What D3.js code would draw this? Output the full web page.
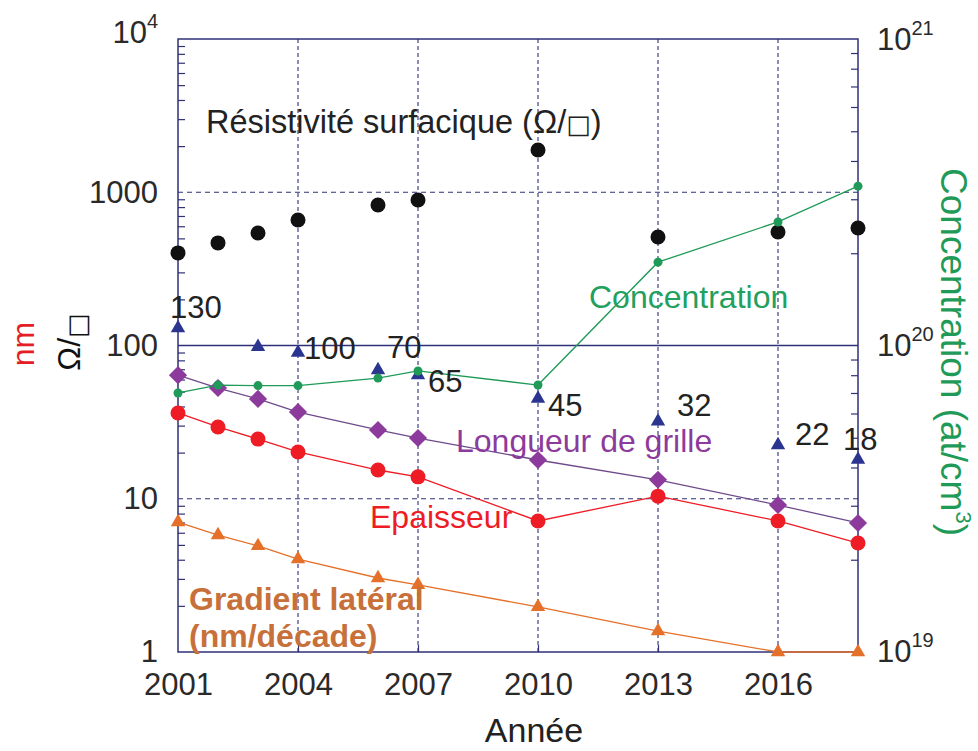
<!DOCTYPE html>
<html>
<head>
<meta charset="utf-8">
<script src="https://cdn.jsdelivr.net/npm/d3@7"></script>
<style>
  html, body { margin: 0; padding: 0; background: #ffffff; }
  svg { display: block; font-family: "Liberation Sans", Arial, Helvetica, sans-serif; }
</style>
</head>
<body>
<svg id="chart" width="978" height="751"></svg>
<script>
// ---------------- data ----------------
const years = [2001, 2002, 2003, 2004, 2006, 2007, 2010, 2013, 2016, 2018];
const resistivity   = [402, 467, 542, 659, 826, 890, 1888, 510, 550, 585];        // Ω/□ (left axis)
const gateLength    = [64, 52.8, 44.8, 36.8, 28.1, 24.9, 17.9, 13.3, 9.1, 6.95];  // nm
const thickness     = [36.3, 29.4, 24.5, 20.2, 15.4, 13.9, 7.16, 10.4, 7.16, 5.14]; // nm
const gradient      = [7.05, 5.8, 4.92, 4.04, 3.04, 2.74, 1.97, 1.37, 1.0, 1.0];   // nm/décade
const concentration = [7.0e19, 7.43e19, 7.4e19, 7.4e19, 7.83e19, 8.26e19, 7.43e19, 1.87e20, 2.53e20, 3.31e20]; // at/cm3 (right axis)

const nodeYears  = [2001, 2003, 2004, 2006, 2007, 2010, 2013, 2016, 2018];
const nodeValues = [130, 98, 90, 69, 64, 45, 32, 22.4, 18];
const nodeLabels = ["130", "", "100", "70", "65", "45", "32", "22", "18"];

const xTickValues = [2001, 2004, 2007, 2010, 2013, 2016];
const xGridValues = [2004, 2007, 2010, 2013, 2016];
const leftTickValues  = [1, 10, 100, 1000, 10000];
const leftTickLabels  = [["1"], ["10"], ["100"], ["1000"], ["10", "4"]];
const rightTickValues = [1e19, 1e20, 1e21];
const rightTickLabels = [["10", "19"], ["10", "20"], ["10", "21"]];

// ---------------- layout / style ----------------
const W = 978, H = 751;
const plot = { left: 178, right: 858, top: 39, bottom: 652 };
const C = {
  frame: "#2f3178", grid: "#2f3178", tick: "#2a2a2a",
  black: "#111111", purple: "#8c3a9c", purpleLine: "#6e4a8a",
  red: "#ee1c25", orange: "#e5702a", orangeText: "#c7703a",
  blue: "#2b3590", green: "#1f9a58", greenText: "#22a05e"
};
// label offsets for node labels (dx, dy relative to marker)
const nodeLabelOffsets = [[-8, -10], [0, 0], [6, 6], [9, -12], [10, 17], [10, 17], [19, -5], [17, 0], [-15, -10]];

const svg = d3.select("#chart");
svg.append("rect").attr("width", W).attr("height", H).attr("fill", "#fff");

const x  = d3.scaleLinear().domain([2001, 2018]).range([plot.left, plot.right]);
const yL = d3.scaleLog().domain([1, 1e4]).range([plot.bottom, plot.top]);
const yR = d3.scaleLog().domain([1e19, 1e21]).range([plot.bottom, plot.top]);

// ---------------- grid ----------------
const grid = svg.append("g");
grid.selectAll("line.v").data(xGridValues).join("line")
  .attr("x1", d => x(d)).attr("x2", d => x(d))
  .attr("y1", plot.top).attr("y2", plot.bottom)
  .attr("stroke", C.grid).attr("stroke-width", 1.1).attr("stroke-dasharray", "4,3");
grid.selectAll("line.h").data([10, 1000]).join("line")
  .attr("x1", plot.left).attr("x2", plot.right)
  .attr("y1", d => yL(d)).attr("y2", d => yL(d))
  .attr("stroke", C.grid).attr("stroke-width", 1.1).attr("stroke-dasharray", "5,4");
grid.append("line")
  .attr("x1", plot.left).attr("x2", plot.right)
  .attr("y1", yL(100)).attr("y2", yL(100))
  .attr("stroke", C.frame).attr("stroke-width", 1.3);

// ---------------- minor ticks ----------------
const leftMinor = [];
for (let k = 0; k < 4; k++) for (let m = 2; m <= 9; m++) leftMinor.push(m * Math.pow(10, k));
const rightMinor = [];
for (let k = 19; k < 21; k++) for (let m = 2; m <= 9; m++) rightMinor.push(m * Math.pow(10, k));

svg.append("g").attr("transform", `translate(${plot.left},0)`)
  .call(d3.axisLeft(yL).tickValues(leftMinor).tickSize(-7).tickFormat(""))
  .call(g => g.select(".domain").remove())
  .call(g => g.selectAll("line").attr("stroke", C.frame).attr("stroke-width", 1.2));
svg.append("g").attr("transform", `translate(${plot.right},0)`)
  .call(d3.axisRight(yR).tickValues(rightMinor).tickSize(-7).tickFormat(""))
  .call(g => g.select(".domain").remove())
  .call(g => g.selectAll("line").attr("stroke", C.frame).attr("stroke-width", 1.2));
svg.append("g").attr("transform", `translate(0,${plot.bottom})`)
  .call(d3.axisBottom(x).tickValues(xGridValues).tickSize(-7).tickFormat(""))
  .call(g => g.select(".domain").remove())
  .call(g => g.selectAll("line").attr("stroke", C.frame).attr("stroke-width", 1.2));

// ---------------- frame ----------------
svg.append("rect")
  .attr("x", plot.left).attr("y", plot.top)
  .attr("width", plot.right - plot.left).attr("height", plot.bottom - plot.top)
  .attr("fill", "none").attr("stroke", C.frame).attr("stroke-width", 1.5);

// ---------------- tick labels ----------------
function supLabel(textSel, parts, mainSize, supSize) {
  textSel.text(null);
  textSel.append("tspan").text(parts[0]);
  if (parts[1]) textSel.append("tspan").attr("font-size", supSize).attr("dy", "-0.75em").text(parts[1]);
}

const xAxis = svg.append("g").attr("transform", `translate(0,${plot.bottom})`)
  .call(d3.axisBottom(x).tickValues(xTickValues).tickSize(0).tickPadding(21).tickFormat(d3.format("d")));
xAxis.select(".domain").remove();
xAxis.selectAll("text").attr("font-size", 31).attr("fill", C.tick)
  .attr("font-family", "'Liberation Sans', Arial, sans-serif");

const lAxis = svg.append("g").attr("transform", `translate(${plot.left},0)`)
  .call(d3.axisLeft(yL).tickValues(leftTickValues).tickSize(0).tickPadding(20));
lAxis.select(".domain").remove();
lAxis.selectAll("text").attr("font-size", 31).attr("fill", C.tick)
  .attr("font-family", "'Liberation Sans', Arial, sans-serif")
  .each(function(d, i) { supLabel(d3.select(this), leftTickLabels[i], 31, 20); });
lAxis.selectAll(".tick").filter(d => d === 10000).select("text").attr("dy", "0.1em");

const rAxis = svg.append("g").attr("transform", `translate(${plot.right},0)`)
  .call(d3.axisRight(yR).tickValues(rightTickValues).tickSize(0).tickPadding(19));
rAxis.select(".domain").remove();
rAxis.selectAll("text").attr("font-size", 31).attr("fill", C.tick)
  .attr("font-family", "'Liberation Sans', Arial, sans-serif")
  .each(function(d, i) { supLabel(d3.select(this), rightTickLabels[i], 31, 20); });
rAxis.selectAll(".tick").filter(d => d === 1e21).select("text").attr("dy", "0.35em");

// ---------------- axis titles ----------------
svg.append("text")
  .attr("transform", `translate(34,344) rotate(-90)`)
  .attr("text-anchor", "middle").attr("font-size", 32).attr("fill", "#e31e24").text("nm");
const omT = svg.append("text")
  .attr("transform", `translate(80,342) rotate(-90)`)
  .attr("text-anchor", "middle").attr("font-size", 32).attr("fill", "#111");
omT.append("tspan").text("Ω/");
omT.append("tspan").attr("font-family", "'DejaVu Sans', sans-serif").attr("font-size", 26).attr("dy", 6).text("□");

const rT = svg.append("text")
  .attr("transform", `translate(941,352) rotate(90)`)
  .attr("text-anchor", "middle").attr("font-size", 37).attr("fill", C.green);
rT.append("tspan").text("Concentration (at/cm");
rT.append("tspan").attr("font-size", 22).attr("dy", -15).text("3");
rT.append("tspan").attr("dy", 15).text(")");

svg.append("text").attr("x", x(2010) - 4).attr("y", 742)
  .attr("text-anchor", "middle").attr("font-size", 34).attr("fill", "#222").text("Année");

// ---------------- series ----------------
const idx = d3.range(years.length);
const lineGen = (yScale, vals) => d3.line().x(i => x(years[i])).y(i => yScale(vals[i]));

// black resistivity dots (no line)
svg.append("g").selectAll("circle").data(idx).join("circle")
  .attr("cx", i => x(years[i])).attr("cy", i => yL(resistivity[i])).attr("r", 7.5)
  .attr("fill", C.black);

// purple gate length
svg.append("path").datum(idx).attr("d", lineGen(yL, gateLength))
  .attr("fill", "none").attr("stroke", C.purpleLine).attr("stroke-width", 1.3);
svg.append("g").selectAll("path").data(idx).join("path")
  .attr("d", d3.symbol(d3.symbolSquare, 165)())
  .attr("transform", i => `translate(${x(years[i])},${yL(gateLength[i])}) rotate(45)`)
  .attr("fill", C.purple);

// red thickness
svg.append("path").datum(idx).attr("d", lineGen(yL, thickness))
  .attr("fill", "none").attr("stroke", C.red).attr("stroke-width", 1.3);
svg.append("g").selectAll("circle").data(idx).join("circle")
  .attr("cx", i => x(years[i])).attr("cy", i => yL(thickness[i])).attr("r", 7.5)
  .attr("fill", C.red);

// orange gradient
svg.append("path").datum(idx).attr("d", lineGen(yL, gradient))
  .attr("fill", "none").attr("stroke", C.orange).attr("stroke-width", 1.3);
svg.append("g").selectAll("path").data(idx).join("path")
  .attr("d", d3.symbol(d3.symbolTriangle, 90)())
  .attr("transform", i => `translate(${x(years[i])},${yL(gradient[i])})`)
  .attr("fill", C.orange);

// blue technology nodes
const nIdx = d3.range(nodeYears.length);
svg.append("g").selectAll("path").data(nIdx).join("path")
  .attr("d", d3.symbol(d3.symbolTriangle, 90)())
  .attr("transform", i => `translate(${x(nodeYears[i])},${yL(nodeValues[i])})`)
  .attr("fill", C.blue);

// green concentration (right axis)
svg.append("path").datum(idx).attr("d", lineGen(yR, concentration))
  .attr("fill", "none").attr("stroke", C.green).attr("stroke-width", 1.3);
svg.append("g").selectAll("circle").data(idx).join("circle")
  .attr("cx", i => x(years[i])).attr("cy", i => yR(concentration[i])).attr("r", 4.5)
  .attr("fill", C.green);

// node labels
svg.append("g").selectAll("text").data(nIdx.filter(i => nodeLabels[i] !== "")).join("text")
  .attr("x", i => x(nodeYears[i]) + nodeLabelOffsets[i][0])
  .attr("y", i => yL(nodeValues[i]) + nodeLabelOffsets[i][1])
  .attr("font-size", 31).attr("fill", "#222").text(i => nodeLabels[i]);

// ---------------- series annotations ----------------
const resT = svg.append("text").attr("x", 206).attr("y", 133).attr("font-size", 32.5).attr("fill", "#222");
resT.append("tspan").text("Résistivité surfacique (Ω/");
resT.append("tspan").attr("font-family", "'DejaVu Sans', sans-serif").attr("font-size", 26).text("□");
resT.append("tspan").text(")");

svg.append("text").attr("x", 589).attr("y", 308).attr("font-size", 32).attr("fill", C.greenText).text("Concentration");
svg.append("text").attr("x", 456).attr("y", 452).attr("font-size", 32).attr("fill", C.purple).text("Longueur de grille");
svg.append("text").attr("x", 370).attr("y", 528).attr("font-size", 32).attr("fill", C.red).text("Epaisseur");
svg.append("text").attr("x", 189).attr("y", 610).attr("font-size", 32).attr("font-weight", "bold").attr("fill", C.orangeText).text("Gradient latéral");
svg.append("text").attr("x", 189).attr("y", 647).attr("font-size", 32).attr("font-weight", "bold").attr("fill", C.orangeText).text("(nm/décade)");
</script>
</body>
</html>
